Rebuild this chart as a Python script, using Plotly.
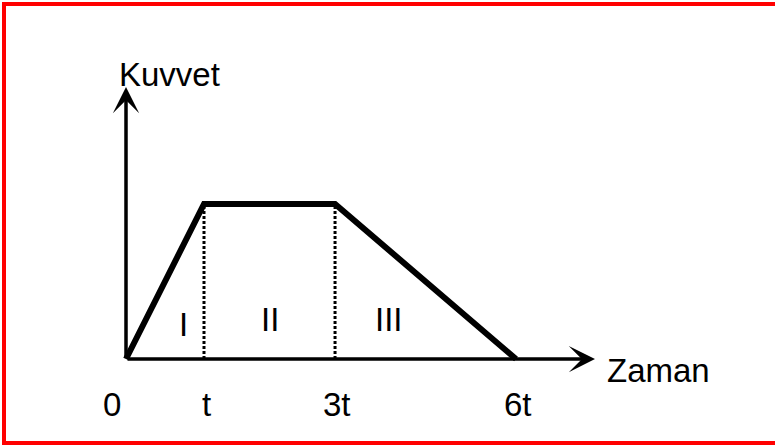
import plotly.graph_objects as go

# Force-time profile: linear rise, constant plateau, linear fall
time_labels = ["0", "t", "3t", "6t"]
time_pos = [0, 1, 2.68, 5.0]          # positions of the time marks along the axis
force = [0, 1, 1, 0]                   # relative force level at each mark
region_labels = ["I", "II", "III"]

FONT = "Liberation Sans, Arial, sans-serif"
W, H = 775, 446
X0_PX, Y0_PX = 126, 359                # origin in pixels
XU, YU = 78, 155                       # pixels per unit

fig = go.Figure()

# main force curve
fig.add_trace(go.Scatter(
    x=time_pos, y=force, mode="lines",
    line=dict(color="black", width=6),
    hoverinfo="skip", showlegend=False,
))

# dotted separators at the plateau ends
for i in (1, 2):
    fig.add_trace(go.Scatter(
        x=[time_pos[i], time_pos[i]], y=[0, force[i]], mode="lines",
        line=dict(color="black", width=3, dash="3px,2px"),
        hoverinfo="skip", showlegend=False,
    ))

annotations = []

# axes drawn as arrows
y_tip = (Y0_PX - 87) / YU
x_tip = (595 - X0_PX) / XU
for (tx, ty) in [(0, y_tip), (x_tip, 0)]:
    annotations.append(dict(
        x=tx, y=ty, ax=0, ay=0, xref="x", yref="y", axref="x", ayref="y",
        text="", showarrow=True, arrowhead=3, arrowsize=1.25, arrowwidth=3.5,
        arrowcolor="black", standoff=0, startstandoff=0,
    ))

txt = dict(family=FONT, size=33, color="black")

# axis titles
annotations.append(dict(x=0.564, y=1.835, xref="x", yref="y", text="Kuvvet",
                        showarrow=False, font=txt, xanchor="center", yanchor="middle"))
annotations.append(dict(x=6.14, y=-0.075, xref="x", yref="y", text="Zaman",
                        showarrow=False, font=txt, xanchor="left", yanchor="middle"))

# time tick labels
tick_y = (Y0_PX - 404) / YU
for i, (lab, xp) in enumerate(zip(time_labels, time_pos)):
    if i == 0:
        annotations.append(dict(x=xp, y=tick_y, xref="x", yref="y", text=lab,
                                showarrow=False, font=txt, xanchor="right",
                                yanchor="middle", xshift=-3))
    else:
        annotations.append(dict(x=xp, y=tick_y, xref="x", yref="y", text=lab,
                                showarrow=False, font=txt, xanchor="center",
                                yanchor="middle", xshift=2))

# region labels
region_xy = [(0.731, 0.225), (1.846, 0.252), (3.372, 0.252)]
for lab, (rx, ry) in zip(region_labels, region_xy):
    annotations.append(dict(x=rx, y=ry, xref="x", yref="y", text=lab,
                            showarrow=False, font=txt, xanchor="center", yanchor="middle"))

# red frame
shapes = [dict(type="rect", xref="paper", yref="paper",
               x0=4 / W, x1=1.05, y0=(H - 443) / H, y1=(H - 4) / H,
               line=dict(color="#ff0000", width=4), fillcolor="rgba(0,0,0,0)")]

fig.update_layout(
    width=W, height=H,
    margin=dict(l=0, r=0, t=0, b=0),
    paper_bgcolor="white", plot_bgcolor="white",
    xaxis=dict(range=[-X0_PX / XU, (W - X0_PX) / XU], visible=False, fixedrange=True),
    yaxis=dict(range=[-(H - Y0_PX) / YU, Y0_PX / YU], visible=False, fixedrange=True),
    annotations=annotations, shapes=shapes,
)

fig.write_html("out.html", config={"displayModeBar": False})
